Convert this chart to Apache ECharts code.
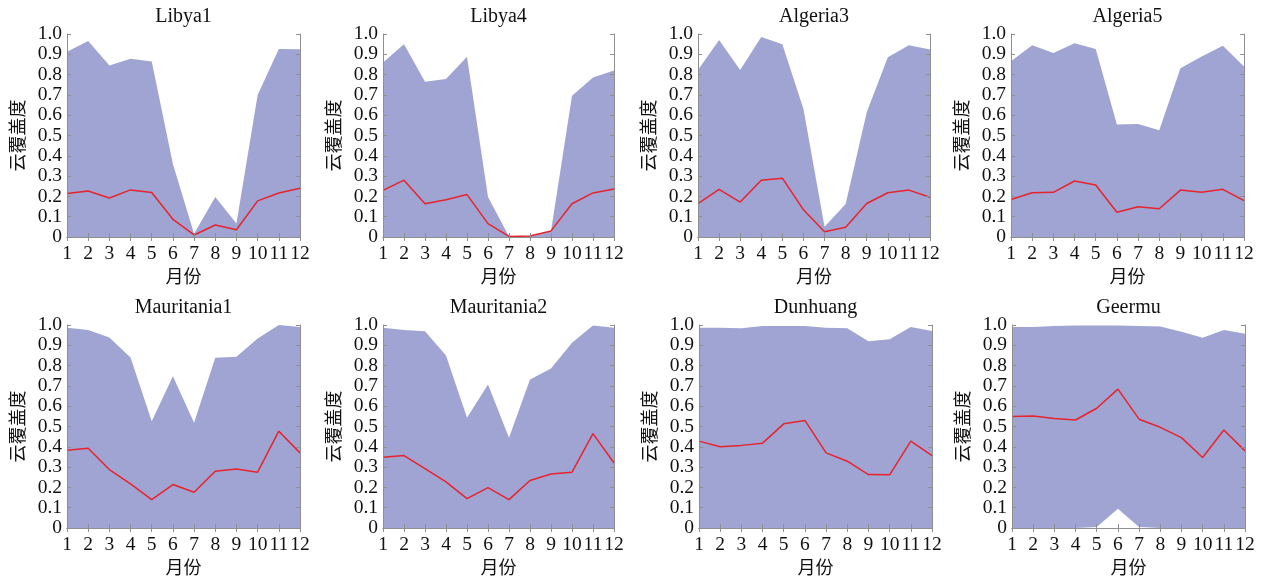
<!DOCTYPE html>
<html>
<head>
<meta charset="utf-8">
<script src="https://cdn.jsdelivr.net/npm/echarts@6/dist/echarts.min.js"></script>
<style>
  html, body { margin: 0; padding: 0; background: #fff; }
  #chart { width: 1264px; height: 581px; }
</style>
</head>
<body>
<div id="chart"></div>
<script>
// Monthly cloud cover: range (min..max) band and mean line per site
const months = ['1', '2', '3', '4', '5', '6', '7', '8', '9', '10', '11', '12'];
const yTicks = [0, 0.1, 0.2, 0.3, 0.4, 0.5, 0.6, 0.7, 0.8, 0.9, 1.0];
const sites = ['Libya1', 'Libya4', 'Algeria3', 'Algeria5', 'Mauritania1', 'Mauritania2', 'Dunhuang', 'Geermu'];

const libya1Max  = [0.913, 0.965, 0.845, 0.878, 0.865, 0.36, 0.016, 0.197, 0.066, 0.70, 0.926, 0.925];
const libya1Min  = [0, 0, 0, 0, 0, 0, 0, 0, 0, 0, 0, 0];
const libya1Mean = [0.214, 0.227, 0.192, 0.232, 0.219, 0.087, 0.01, 0.059, 0.036, 0.178, 0.217, 0.24];

const libya4Max  = [0.86, 0.949, 0.765, 0.778, 0.888, 0.197, 0.003, 0.004, 0.03, 0.696, 0.786, 0.82];
const libya4Min  = [0, 0, 0, 0, 0, 0, 0, 0, 0, 0, 0, 0];
const libya4Mean = [0.23, 0.28, 0.164, 0.183, 0.209, 0.066, 0.003, 0.005, 0.03, 0.164, 0.217, 0.237];

const algeria3Max  = [0.823, 0.97, 0.823, 0.985, 0.95, 0.63, 0.05, 0.163, 0.614, 0.886, 0.945, 0.924];
const algeria3Min  = [0, 0, 0, 0, 0, 0, 0, 0, 0, 0, 0, 0];
const algeria3Mean = [0.164, 0.235, 0.172, 0.28, 0.29, 0.134, 0.026, 0.048, 0.165, 0.218, 0.231, 0.196];

const algeria5Max  = [0.866, 0.945, 0.906, 0.955, 0.926, 0.554, 0.557, 0.526, 0.831, 0.889, 0.942, 0.84];
const algeria5Min  = [0, 0, 0, 0, 0, 0, 0, 0, 0, 0, 0, 0];
const algeria5Mean = [0.185, 0.218, 0.22, 0.276, 0.256, 0.122, 0.149, 0.139, 0.231, 0.22, 0.235, 0.179];

const mauritania1Max  = [0.986, 0.975, 0.938, 0.84, 0.526, 0.748, 0.518, 0.839, 0.844, 0.934, 1.0, 0.99];
const mauritania1Min  = [0, 0, 0, 0, 0, 0, 0, 0, 0, 0, 0, 0];
const mauritania1Mean = [0.383, 0.393, 0.288, 0.217, 0.14, 0.214, 0.176, 0.28, 0.291, 0.275, 0.477, 0.37];

const mauritania2Max  = [0.987, 0.975, 0.969, 0.85, 0.543, 0.707, 0.444, 0.732, 0.786, 0.913, 0.998, 0.987];
const mauritania2Min  = [0, 0, 0, 0, 0, 0, 0, 0, 0, 0, 0, 0];
const mauritania2Mean = [0.349, 0.357, 0.293, 0.227, 0.145, 0.199, 0.14, 0.234, 0.266, 0.275, 0.465, 0.32];

const dunhuangMax  = [0.987, 0.987, 0.984, 0.995, 0.995, 0.995, 0.987, 0.984, 0.92, 0.93, 0.99, 0.97];
const dunhuangMin  = [0, 0, 0, 0, 0, 0, 0, 0, 0, 0, 0, 0];
const dunhuangMean = [0.428, 0.40, 0.407, 0.418, 0.513, 0.53, 0.37, 0.329, 0.263, 0.262, 0.428, 0.357];

const geermuMax  = [0.99, 0.99, 0.995, 0.998, 0.998, 0.998, 0.995, 0.992, 0.967, 0.937, 0.975, 0.957];
const geermuMin  = [0, 0, 0, 0, 0.005, 0.095, 0.005, 0, 0, 0, 0, 0];
const geermuMean = [0.549, 0.552, 0.54, 0.532, 0.59, 0.684, 0.536, 0.496, 0.445, 0.347, 0.483, 0.38];

const maxSets  = [libya1Max, libya4Max, algeria3Max, algeria5Max, mauritania1Max, mauritania2Max, dunhuangMax, geermuMax];
const minSets  = [libya1Min, libya4Min, algeria3Min, algeria5Min, mauritania1Min, mauritania2Min, dunhuangMin, geermuMin];
const meanSets = [libya1Mean, libya4Mean, algeria3Mean, algeria5Mean, mauritania1Mean, mauritania2Mean, dunhuangMean, geermuMean];

// panel placement (pixels)
const panelBoxes = [
  { left: 67, top: 34, width: 233 }, { left: 383, top: 34, width: 231 },
  { left: 698, top: 34, width: 232 }, { left: 1011, top: 34, width: 233 },
  { left: 67, top: 325, width: 233 }, { left: 383, top: 325, width: 231 },
  { left: 699, top: 325, width: 233 }, { left: 1012, top: 325, width: 233 }
];
const plotHeight = 203;

const serif = '"Liberation Serif", "Times New Roman", serif';
const cjk = '"Noto Sans CJK SC", sans-serif';
const ink = '#111';
const frame = '#8f8f8f';
const bandColor = '#9fa4d3';
const meanColor = '#e8232d';

const grids = [], xAxes = [], yAxes = [], series = [], titles = [];

panelBoxes.forEach((b, i) => {
  grids.push({ left: b.left, top: b.top, width: b.width, height: plotHeight, containLabel: false });
  titles.push({
    text: sites[i], left: b.left + b.width / 2, top: b.top - 27, textAlign: 'center', padding: 0,
    textStyle: { fontFamily: serif, fontSize: 20, fontWeight: 'normal', color: ink }
  });
  const tick = { show: true, inside: true, length: 4, lineStyle: { color: frame, width: 1 } };
  const line = { show: true, lineStyle: { color: frame, width: 1 } };
  // bottom x axis
  xAxes.push({
    type: 'category', gridIndex: i, data: months, boundaryGap: false, position: 'bottom', z: 5,
    axisLine: line, axisTick: tick,
    axisLabel: { margin: 7, fontFamily: serif, fontSize: 19.5, color: ink, interval: 0 },
    name: '月份', nameLocation: 'middle', nameGap: 30,
    nameTextStyle: { fontFamily: cjk, fontSize: 18, color: ink }
  });
  // top x axis (frame + ticks only)
  xAxes.push({
    type: 'category', gridIndex: i, data: months, boundaryGap: false, position: 'top', z: 5,
    axisLine: line, axisTick: tick, axisLabel: { show: false }
  });
  // left y axis
  yAxes.push({
    type: 'value', gridIndex: i, min: 0, max: 1, interval: 0.1, position: 'left', z: 5,
    axisLine: line, axisTick: tick, splitLine: { show: false },
    axisLabel: {
      margin: 5, fontFamily: serif, fontSize: 19.5, color: ink,
      formatter: v => (v === 0 ? '0' : v.toFixed(1))
    },
    name: '云覆盖度', nameLocation: 'middle', nameGap: 41, nameRotate: 90,
    nameTextStyle: { fontFamily: cjk, fontSize: 18, color: ink }
  });
  // right y axis (frame + ticks only)
  yAxes.push({
    type: 'value', gridIndex: i, min: 0, max: 1, interval: 0.1, position: 'right', z: 5,
    axisLine: line, axisTick: tick, splitLine: { show: false }, axisLabel: { show: false }
  });

  const xi = 2 * i, yi = 2 * i;
  const stackId = 'band' + i;
  series.push({
    type: 'line', xAxisIndex: xi, yAxisIndex: yi, stack: stackId,
    data: minSets[i], showSymbol: false, lineStyle: { width: 0, opacity: 0 }, silent: true, z: 2
  });
  series.push({
    type: 'line', xAxisIndex: xi, yAxisIndex: yi, stack: stackId,
    data: maxSets[i].map((v, j) => v - minSets[i][j]),
    showSymbol: false, lineStyle: { width: 0, opacity: 0 },
    areaStyle: { color: bandColor, opacity: 1 }, silent: true, z: 2
  });
  series.push({
    type: 'line', xAxisIndex: xi, yAxisIndex: yi,
    data: meanSets[i], showSymbol: false,
    lineStyle: { color: meanColor, width: 1.5 }, z: 4
  });
});

const chart = echarts.init(document.getElementById('chart'), null, { renderer: 'canvas' });
chart.setOption({
  animation: false,
  backgroundColor: '#fff',
  title: titles,
  grid: grids,
  xAxis: xAxes,
  yAxis: yAxes,
  series: series
});
</script>
</body>
</html>
